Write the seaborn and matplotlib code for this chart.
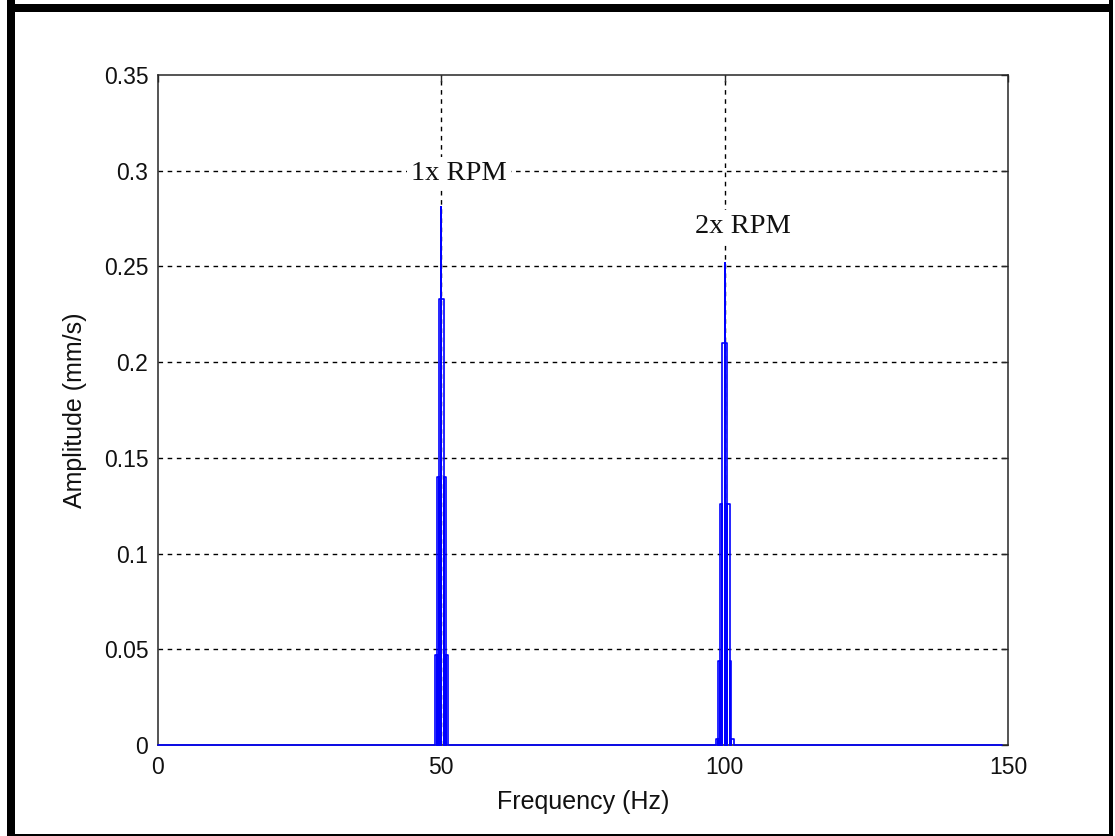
import matplotlib
matplotlib.use("Agg")
import matplotlib.pyplot as plt
from matplotlib.patches import Rectangle
import seaborn as sns
import pandas as pd

# Spectrum: flat floor from 0 to the last bin, with two harmonic peaks
freq_start, freq_end = 0.0, 148.9
peak_freq = [50.0, 100.0]
peak_amp = [0.281, 0.252]
# side-lobe levels around each peak, outermost first, with their half widths (Hz)
lobe_amp = [[0.047, 0.140, 0.233], [0.003, 0.044, 0.126, 0.210]]
lobe_halfwidth = [[1.10, 0.80, 0.50], [1.60, 1.18, 0.86, 0.48]]

peak_labels = ["1x RPM", "2x RPM"]
label_freq = [53.1, 103.2]
label_amp = [0.2952, 0.2675]

x_ticks = [0, 50, 100, 150]
y_ticks = [0, 0.05, 0.1, 0.15, 0.2, 0.25, 0.3, 0.35]
y_ticklabels = ["0", "0.05", "0.1", "0.15", "0.2", "0.25", "0.3", "0.35"]


def trace_spectrum():
    fx, fy = [freq_start], [0.0]

    def add(x, y):
        fx.append(x)
        fy.append(y)

    for c, top, levels, halfw in zip(peak_freq, peak_amp, lobe_amp, lobe_halfwidth):
        n = len(levels)
        # rising side: each lobe edge runs from the floor up to its level
        for k in range(n):
            x0 = c - halfw[k]
            x1 = c - halfw[k + 1] if k + 1 < n else c
            add(x0, 0.0); add(x0, levels[k]); add(x1, levels[k]); add(x1, 0.0)
        # main line
        add(c, 0.0); add(c, top); add(c, 0.0)
        # falling side
        for k in reversed(range(n)):
            x0 = c + halfw[k + 1] if k + 1 < n else c
            x1 = c + halfw[k]
            add(x0, 0.0); add(x0, levels[k]); add(x1, levels[k]); add(x1, 0.0)
    add(freq_end, 0.0)
    return pd.DataFrame({"freq": fx, "amp": fy, "order": range(len(fx))})


spectrum = trace_spectrum()

sns.set_theme(style="white")
plt.rcParams["font.family"] = ["Liberation Sans", "DejaVu Sans"]

fig = plt.figure(figsize=(11.15, 8.36), dpi=100)
fig.patch.set_facecolor("white")
ax = fig.add_axes([158 / 1115, 91 / 836, 850 / 1115, 670 / 836])
ax.set_facecolor("white")

sns.lineplot(data=spectrum, x="freq", y="amp", sort=False, estimator=None,
             color="#0000ff", linewidth=1.2, ax=ax, zorder=3)
for ln in ax.get_lines():
    ln.set_clip_on(False)

ax.set_xlim(0, 150)
ax.set_ylim(0, 0.35)
ax.set_xticks(x_ticks)
ax.set_xticklabels([str(t) for t in x_ticks])
ax.set_yticks(y_ticks)
ax.set_yticklabels(y_ticklabels)

ax.grid(True, color="black", linestyle=(0, (3.3, 3.3)), linewidth=1.0, zorder=1)
ax.set_axisbelow(True)
# grid lines that coincide with the box edges are left to the solid spines
xgl = ax.xaxis.get_gridlines()
ygl = ax.yaxis.get_gridlines()
for gl in (xgl[0], xgl[-1], ygl[0], ygl[-1]):
    gl.set_visible(False)

for s in ax.spines.values():
    s.set_visible(True)
    s.set_color("#262626")
    s.set_linewidth(1.1)

ax.tick_params(axis="both", which="both", direction="in", length=5, width=1,
               color="#262626", top=True, right=True, labelsize=16.5,
               labelcolor="#111111")
ax.tick_params(axis="y", pad=7)
ax.tick_params(axis="x", pad=8)

ax.set_xlabel("Frequency (Hz)", fontsize=18, color="#111111", labelpad=8)
ax.set_ylabel("Amplitude (mm/s)", fontsize=18, color="#111111", labelpad=12)

for txt, fx, fy in zip(peak_labels, label_freq, label_amp):
    ax.text(fx, fy, txt, ha="center", va="baseline", fontsize=20.5,
            family=["Liberation Serif", "DejaVu Serif"], color="#111111", zorder=5,
            bbox=dict(boxstyle="square,pad=0.15", facecolor="white", edgecolor="none"))

# window frame around the figure
W, H = 1115, 836
frame = [
    (7, 0, 8, 836),          # left edge
    (7, 836 - 12, 1106, 8),  # top edge
    (1109, 0, 4, 836),       # right edge
    (7, 0, 1106, 2),         # bottom edge
]
for x, y, w, h in frame:
    fig.patches.append(Rectangle((x / W, y / H), w / W, h / H, transform=fig.transFigure,
                                 facecolor="black", edgecolor="none", zorder=10))

fig.savefig("out.png", dpi=100, facecolor="white")
